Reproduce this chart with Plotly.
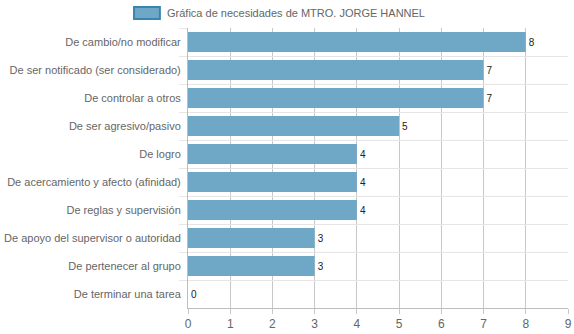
import plotly.graph_objects as go

categories = [
    "De cambio/no modificar",
    "De ser notificado (ser considerado)",
    "De controlar a otros",
    "De ser agresivo/pasivo",
    "De logro",
    "De acercamiento y afecto (afinidad)",
    "De reglas y supervisión",
    "De apoyo del supervisor o autoridad",
    "De pertenecer al grupo",
    "De terminar una tarea",
]
values = [8, 7, 7, 5, 4, 4, 4, 3, 3, 0]
series_name = "Gráfica de necesidades de MTRO. JORGE HANNEL"
x_ticks = list(range(0, 10))

bar_fill = "#6fa8c6"
font_family = "Liberation Sans, Arial, sans-serif"

fig = go.Figure()
fig.add_trace(go.Bar(
    y=categories,
    x=values,
    orientation="h",
    name=series_name,
    marker=dict(color=bar_fill, line=dict(width=0)),
    text=[str(v) for v in values],
    textposition="outside",
    textfont=dict(size=10, color="#222", family=font_family),
    cliponaxis=False,
    showlegend=False,
))

fig.update_layout(
    width=574,
    height=334,
    margin=dict(l=188, r=6, t=28, b=26),
    paper_bgcolor="white",
    plot_bgcolor="white",
    bargap=0.28,
    font=dict(family=font_family, size=11, color="#666"),
    xaxis=dict(
        range=[0, 9],
        tickvals=x_ticks,
        showgrid=True,
        gridcolor="#c8c8c8",
        gridwidth=1,
        zeroline=False,
        showline=True,
        linecolor="#bdbdbd",
        ticks="outside",
        ticklen=5,
        tickcolor="#c8c8c8",
        tickfont=dict(size=12, color="#666"),
        automargin=False,
        fixedrange=True,
    ),
    yaxis=dict(
        autorange="reversed",
        type="category",
        tickson="boundaries",
        showgrid=True,
        gridcolor="#e6e6e6",
        ticks="outside",
        ticklen=8,
        tickcolor="#e6e6e6",
        ticklabelstandoff=4,
        showline=True,
        linecolor="#bdbdbd",
        tickfont=dict(size=11, color="#666"),
        automargin=False,
        fixedrange=True,
    ),
    shapes=[
        dict(type="rect", xref="paper", yref="paper",
             x0=-0.142, x1=-0.074, y0=1.032, y1=1.075,
             fillcolor=bar_fill, line=dict(color="#3a84ad", width=2)),
    ],
    annotations=[
        dict(text=series_name, xref="paper", yref="paper",
             x=-0.0605, y=1.0536, xanchor="left", yanchor="middle",
             showarrow=False, font=dict(size=11, color="#666")),
    ],
)

fig.write_html("out.html")
